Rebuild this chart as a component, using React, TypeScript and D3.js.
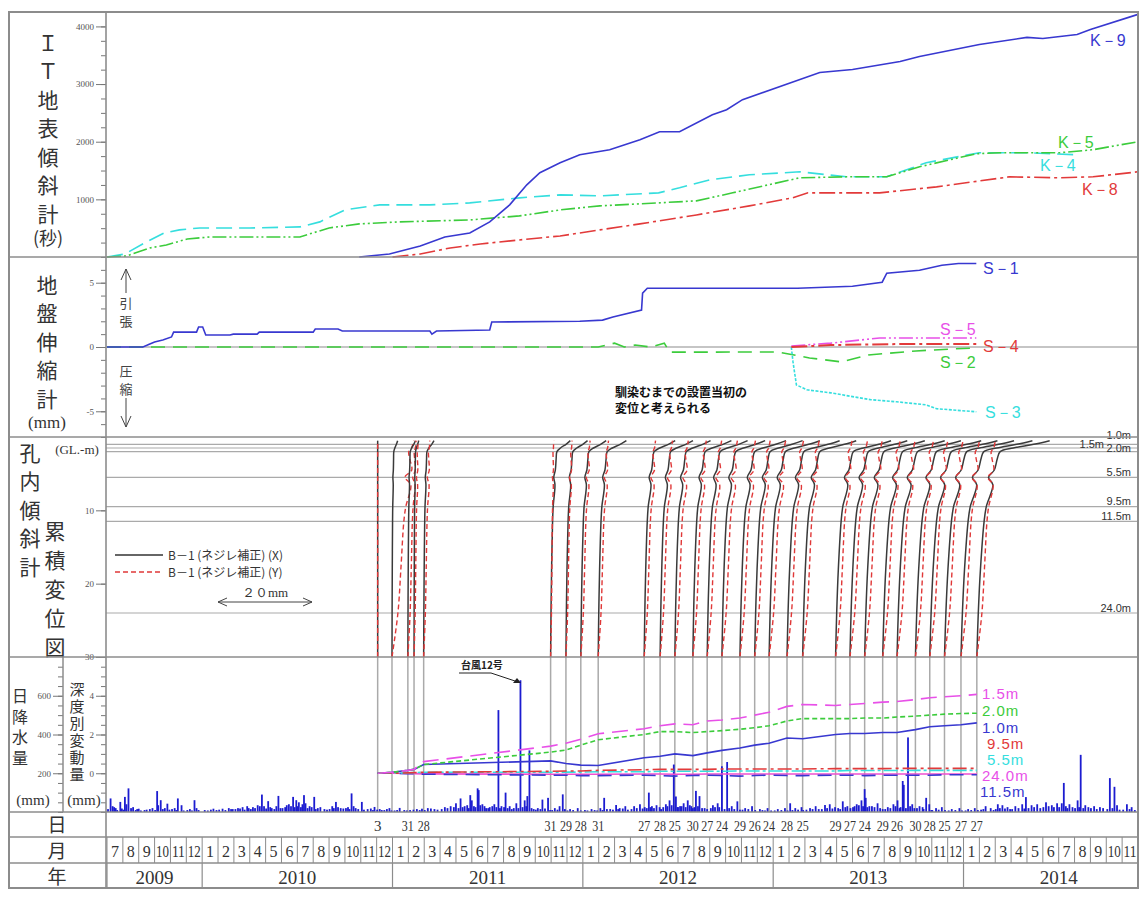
import React, { useEffect, useRef } from "react";
import * as d3 from "d3";

type Pt = [string, number];

const W = 1139;
const H = 902;

// ---- IT 地表傾斜計 (秒) ----
const k9: Pt[] = [["2010-10-29",0],["2010-12-26",52],["2011-02-22",191],["2011-04-10",348],["2011-05-28",417],["2011-07-05",609],["2011-08-13",904],["2011-09-15",1252],["2011-10-10",1461],["2011-11-18",1635],["2011-12-26",1774],["2012-02-21",1861],["2012-04-19",2035],["2012-05-27",2174],["2012-07-04",2174],["2012-09-06",2469],["2012-10-03",2556],["2012-11-03",2730],["2013-03-30",3200],["2013-06-01",3252],["2013-09-01",3391],["2013-10-08",3478],["2014-02-01",3687],["2014-05-01",3809],["2014-06-01",3791],["2014-08-06",3861],["2014-09-01",3948],["2014-12-01",4209]];
const k5: Pt[] = [["2009-07-01",0],["2009-08-08",17],["2009-09-22",157],["2009-10-24",209],["2009-12-03",313],["2010-01-16",348],["2010-07-06",348],["2010-09-01",504],["2010-10-29",574],["2011-01-15",609],["2011-05-28",643],["2011-09-01",713],["2011-11-18",817],["2012-02-03",887],["2012-05-25",939],["2012-08-06",974],["2012-10-15",1113],["2013-02-20",1374],["2013-05-20",1391],["2013-08-06",1391],["2013-10-08",1565],["2014-01-26",1791],["2014-03-10",1809],["2014-07-03",1809],["2014-09-06",1861],["2014-12-01",2000]];
const k4: Pt[] = [["2009-07-01",0],["2009-08-05",52],["2009-09-12",243],["2009-10-20",417],["2009-11-18",470],["2009-12-27",504],["2010-04-01",504],["2010-07-06",522],["2010-08-14",609],["2010-10-01",817],["2010-12-07",904],["2011-03-12",904],["2011-05-28",939],["2011-09-01",1026],["2011-11-18",1078],["2012-02-03",1061],["2012-05-25",1113],["2012-07-04",1200],["2012-09-01",1339],["2012-11-16",1426],["2013-02-20",1478],["2013-05-20",1391],["2013-08-06",1391],["2013-10-21",1635],["2014-02-01",1809],["2014-05-01",1809],["2014-08-01",1774]];
const k8: Pt[] = [["2011-01-01",0],["2011-02-22",52],["2011-04-20",157],["2011-06-17",226],["2011-09-01",296],["2011-11-18",365],["2012-02-03",470],["2012-04-19",574],["2012-08-06",730],["2012-11-16",887],["2013-02-07",1026],["2013-03-07",1113],["2013-07-23",1113],["2013-11-10",1217],["2014-03-29",1391],["2014-07-03",1374],["2014-09-06",1391],["2014-12-01",1478]];

// ---- 地盤伸縮計 (mm) ----
const s1: Pt[] = [["2009-07-01",0],["2009-09-09",0],["2009-09-22",0.23],["2009-10-01",0.39],["2009-10-17",0.54],["2009-11-03",0.78],["2009-11-07",1.16],["2009-12-21",1.16],["2009-12-25",1.55],["2010-01-02",1.55],["2010-01-08",0.93],["2010-02-22",0.93],["2010-02-28",1.0],["2010-04-15",1.0],["2010-04-19",1.16],["2010-08-01",1.16],["2010-08-05",1.4],["2010-09-18",1.4],["2010-09-26",1.24],["2011-03-12",1.24],["2011-03-16",1.0],["2011-03-25",1.24],["2011-07-05",1.32],["2011-07-09",1.94],["2011-12-26",2.0],["2012-02-08",2.09],["2012-02-27",2.33],["2012-04-22",2.87],["2012-04-24",4.19],["2012-05-03",4.57],["2013-02-16",4.57],["2013-06-01",4.73],["2013-07-28",5.04],["2013-08-06",5.74],["2013-10-08",5.97],["2013-11-20",6.36],["2013-12-22",6.5],["2014-01-26",6.5]];
const s2: Pt[] = [["2009-07-01",0],["2012-01-31",0],["2012-03-01",0.3],["2012-03-20",0],["2012-04-10",0.15],["2012-05-10",0],["2012-06-05",0.3],["2012-06-15",-0.4],["2013-01-10",-0.39],["2013-03-10",-0.85],["2013-05-10",-1.16],["2013-07-01",-0.62],["2013-10-01",-0.31],["2013-12-10",-0.15],["2014-01-27",-0.08]];
const s3: Pt[] = [["2013-02-05",0],["2013-02-08",-1.16],["2013-02-14",-2.95],["2013-03-05",-3.33],["2013-04-20",-3.57],["2013-07-06",-4.1],["2013-08-25",-4.26],["2013-10-21",-4.5],["2013-11-10",-4.8],["2014-01-26",-5.04]];
const s4: Pt[] = [["2013-02-05",0],["2013-04-20",0.15],["2013-09-01",0.23],["2014-01-26",0.23]];
const s5: Pt[] = [["2013-02-05",0.08],["2013-04-20",0.3],["2013-07-23",0.7],["2014-01-26",0.7]];

// ---- 孔内傾斜計 measurement dates ----
const surveyDates = ["2010-12-03","2010-12-31","2011-01-31","2011-02-11","2011-02-28","2011-10-31","2011-11-29","2011-12-28","2012-01-31","2012-04-27","2012-05-28","2012-06-25","2012-07-30","2012-08-27","2012-09-24","2012-10-29","2012-11-26","2012-12-24","2013-01-28","2013-02-25","2013-04-29","2013-05-27","2013-06-24","2013-07-29","2013-08-26","2013-09-30","2013-10-28","2013-11-25","2013-12-27","2014-01-27"];
const dayLabels = ["3","","31","","28","31","29","28","31","27","28","25","30","27","24","29","26","24","28","25","29","27","24","29","26","30","28","25","27","27"];
const topX = [0,1.2,1.6,1.0,2.2,4.2,4.6,5.4,6.0,6.6,7.0,7.6,8.2,8.6,9.2,9.8,10.2,10.8,11.2,11.4,11.8,12.2,12.8,13.2,13.6,14.0,14.4,14.8,15.2,15.5];
const topY = [0,4.2,1.6,0.8,1.2,0.6,1.2,1.8,2.0,2.2,2.4,2.6,2.6,2.8,3.0,3.0,3.0,3.2,3.2,3.2,3.2,3.4,3.4,3.4,3.5,3.5,3.5,3.6,3.6,3.6];
const profileDepths = [30,24,18,11.5,9.5,6.5,5.5,4.5,3,2.0,1.5,1.0,0.5];
const shapeX = [0,0.02,0.05,0.1,0.13,0.22,0.16,0.24,0.28,0.32,0.5,0.78,1.0];
const shapeY = [0,0.3,0.45,0.6,0.7,0.95,0.65,1.0,0.9,0.85,1.0,1.05,1.1];
const gridDepths = [1.0,1.5,2.0,5.5,9.5,11.5,24.0];

// ---- 深度別変動量 (mm), one value per survey date ----
const dep10 = [0,0.05,0.15,0.2,0.45,0.64,0.5,0.42,0.4,0.8,0.88,1.0,0.91,1.05,1.18,1.3,1.45,1.55,1.82,1.78,2.0,2.05,2.05,2.1,2.1,2.25,2.4,2.45,2.5,2.6];
const dep15 = [0,0.05,0.15,0.2,0.6,1.4,1.55,1.75,2.04,2.3,2.45,2.55,2.5,2.7,2.75,2.85,3.0,3.15,3.45,3.55,3.5,3.55,3.6,3.67,3.7,3.8,3.9,3.95,4.0,4.07];
const dep20 = [0,0.05,0.15,0.2,0.45,1.09,1.2,1.45,1.73,2.0,2.15,2.15,2.1,2.15,2.2,2.27,2.35,2.45,2.7,2.82,2.82,2.82,2.85,2.85,2.9,2.95,3.0,3.05,3.08,3.1];
const dep55 = [0,0,0.02,0.03,0.05,0.05,0.06,0.06,0.08,0.08,0.1,0.1,0.1,0.1,0.1,0.12,0.12,0.12,0.12,0.12,0.12,0.14,0.14,0.14,0.14,0.15,0.15,0.15,0.15,0.15];
const dep95 = [0,0,0.02,0.03,0.05,0.1,0.12,0.12,0.15,0.18,0.2,0.2,0.2,0.2,0.22,0.22,0.22,0.22,0.22,0.22,0.24,0.24,0.24,0.24,0.25,0.25,0.25,0.25,0.25,0.25];
const dep115 = [0,0,-0.02,-0.03,-0.05,-0.1,-0.1,-0.12,-0.12,-0.1,-0.12,-0.15,-0.12,-0.1,-0.12,-0.15,-0.12,-0.1,-0.12,-0.12,-0.1,-0.1,-0.12,-0.1,-0.1,-0.1,-0.1,-0.08,-0.08,-0.08];
const dep240 = [0,0,-0.01,-0.02,-0.03,-0.05,-0.05,-0.05,-0.05,-0.04,-0.04,-0.05,-0.05,-0.04,-0.04,-0.04,-0.04,-0.04,-0.04,-0.04,-0.04,-0.04,-0.04,-0.04,-0.04,-0.04,-0.04,-0.04,-0.04,-0.04];

// ---- 日降水量 (mm) : larger events ----
const rain: Pt[] = [["2009-07-08",70],["2009-07-12",30],["2009-07-18",20],["2009-07-27",52],["2009-08-05",78],["2009-08-08",40],["2009-08-12",122],["2009-08-17",20],["2009-09-01",17],["2009-09-12",10],["2009-09-22",15],["2009-10-06",108],["2009-10-13",61],["2009-10-21",20],["2009-10-26",43],["2009-11-04",15],["2009-11-15",70],["2009-11-22",35],["2009-12-08",15],["2009-12-17",61],["2009-12-25",10],["2010-01-06",10],["2010-01-23",17],["2010-02-09",17],["2010-02-20",20],["2010-02-27",15],["2010-03-09",20],["2010-03-18",25],["2010-03-27",30],["2010-04-07",25],["2010-04-16",35],["2010-04-24",90],["2010-04-28",30],["2010-05-06",56],["2010-05-13",20],["2010-05-26",83],["2010-06-08",25],["2010-06-15",40],["2010-06-23",78],["2010-06-29",61],["2010-07-04",50],["2010-07-14",87],["2010-07-17",45],["2010-07-25",30],["2010-08-03",78],["2010-08-10",20],["2010-08-23",15],["2010-09-07",30],["2010-09-14",52],["2010-09-23",20],["2010-10-07",25],["2010-10-14",96],["2010-10-22",20],["2010-11-03",52],["2010-11-14",15],["2010-11-27",26],["2010-12-07",15],["2010-12-16",10],["2010-12-26",20],["2011-01-15",21],["2011-01-24",10],["2011-02-10",12],["2011-02-25",17],["2011-03-08",20],["2011-03-21",15],["2011-04-10",25],["2011-04-21",30],["2011-05-01",45],["2011-05-10",70],["2011-05-18",30],["2011-05-29",87],["2011-06-01",60],["2011-06-12",122],["2011-06-14",113],["2011-06-21",40],["2011-07-05",25],["2011-07-14",40],["2011-07-22",526],["2011-07-28",30],["2011-08-05",100],["2011-08-13",30],["2011-08-21",20],["2011-08-26",45],["2011-09-03",680],["2011-09-11",60],["2011-09-16",82],["2011-09-20",318],["2011-10-06",20],["2011-10-15",64],["2011-10-26",73],["2011-11-08",20],["2011-11-17",30],["2011-11-23",91],["2011-12-07",15],["2011-12-22",20],["2012-01-05",10],["2012-01-18",15],["2012-02-04",20],["2012-02-11",73],["2012-02-22",15],["2012-03-04",36],["2012-03-11",20],["2012-03-22",30],["2012-04-08",30],["2012-04-19",40],["2012-04-28",25],["2012-05-06",100],["2012-05-12",30],["2012-05-21",35],["2012-05-27",25],["2012-06-08",40],["2012-06-15",60],["2012-06-23",245],["2012-06-27",80],["2012-07-05",30],["2012-07-12",45],["2012-07-20",60],["2012-07-27",30],["2012-08-05",109],["2012-08-12",82],["2012-08-22",20],["2012-09-07",35],["2012-09-16",45],["2012-09-24",236],["2012-10-04",258],["2012-10-13",30],["2012-10-24",55],["2012-11-08",20],["2012-11-21",30],["2012-12-06",15],["2012-12-21",20],["2013-01-10",15],["2013-01-24",20],["2013-02-03",45],["2013-02-12",20],["2013-02-23",25],["2013-03-11",20],["2013-03-22",30],["2013-04-09",36],["2013-04-18",40],["2013-04-28",25],["2013-05-13",55],["2013-05-22",30],["2013-06-09",40],["2013-06-18",60],["2013-06-24",118],["2013-06-26",73],["2013-07-08",30],["2013-07-19",45],["2013-08-08",25],["2013-08-19",40],["2013-08-27",60],["2013-09-06",160],["2013-09-08",140],["2013-09-16",385],["2013-09-24",40],["2013-10-08",30],["2013-10-21",73],["2013-10-27",40],["2013-11-09",20],["2013-11-20",25],["2013-12-09",15],["2013-12-24",20],["2014-01-10",15],["2014-01-23",20],["2014-02-12",30],["2014-02-21",20],["2014-03-06",40],["2014-03-15",35],["2014-03-25",25],["2014-04-09",30],["2014-04-22",40],["2014-04-29",77],["2014-05-10",35],["2014-05-21",40],["2014-06-07",50],["2014-06-18",35],["2014-06-28",45],["2014-07-07",45],["2014-07-11",150],["2014-07-22",40],["2014-08-07",60],["2014-08-13",295],["2014-08-22",35],["2014-09-08",30],["2014-09-19",25],["2014-10-08",175],["2014-10-17",130],["2014-10-22",35],["2014-11-10",40],["2014-11-19",25]];

// ---- 日降水量 (mm) : small daily amounts ----
const rainSmall: Pt[] = [["2009-07-03",15],["2009-07-15",25],["2009-07-21",10],["2009-07-30",18],["2009-08-02",12],["2009-08-21",25],["2009-08-26",10],["2009-08-29",15],["2009-09-05",8],["2009-09-16",12],["2009-09-27",20],["2009-10-02",10],["2009-10-08",35],["2009-10-17",15],["2009-10-30",12],["2009-11-09",20],["2009-11-12",10],["2009-11-26",8],["2009-12-03",10],["2009-12-12",8],["2009-12-21",20],["2010-01-12",8],["2010-01-18",12],["2010-01-29",10],["2010-02-03",12],["2010-02-14",10],["2010-02-24",15],["2010-03-04",15],["2010-03-13",18],["2010-03-22",12],["2010-03-30",20],["2010-04-03",15],["2010-04-11",20],["2010-04-20",30],["2010-05-02",18],["2010-05-10",25],["2010-05-18",15],["2010-05-22",30],["2010-05-30",20],["2010-06-03",20],["2010-06-11",35],["2010-06-19",30],["2010-06-26",25],["2010-07-01",30],["2010-07-08",25],["2010-07-11",40],["2010-07-21",20],["2010-07-29",25],["2010-08-06",15],["2010-08-15",25],["2010-08-28",12],["2010-09-02",15],["2010-09-10",20],["2010-09-18",25],["2010-09-28",18],["2010-10-03",20],["2010-10-10",15],["2010-10-18",30],["2010-10-27",15],["2010-11-07",12],["2010-11-20",18],["2010-11-24",10],["2010-12-02",12],["2010-12-11",10],["2010-12-21",15],["2010-12-30",8],["2011-01-05",8],["2011-01-10",10],["2011-01-29",8],["2011-02-04",10],["2011-02-16",15],["2011-02-21",10],["2011-03-02",10],["2011-03-14",18],["2011-03-27",12],["2011-04-04",15],["2011-04-15",20],["2011-04-27",25],["2011-05-06",20],["2011-05-14",25],["2011-05-23",35],["2011-05-26",20],["2011-06-05",30],["2011-06-08",25],["2011-06-17",35],["2011-06-25",30],["2011-06-28",20],["2011-07-02",20],["2011-07-10",30],["2011-07-18",25],["2011-07-25",20],["2011-08-02",25],["2011-08-09",20],["2011-08-17",15],["2011-08-30",20],["2011-09-07",25],["2011-09-14",30],["2011-09-24",20],["2011-09-28",15],["2011-10-02",12],["2011-10-11",15],["2011-10-20",18],["2011-10-30",10],["2011-11-03",10],["2011-11-13",12],["2011-11-27",15],["2011-12-02",8],["2011-12-13",10],["2011-12-28",8],["2012-01-10",8],["2012-01-24",10],["2012-01-29",8],["2012-02-08",10],["2012-02-16",15],["2012-02-27",12],["2012-03-08",15],["2012-03-17",18],["2012-03-27",12],["2012-04-03",15],["2012-04-13",20],["2012-04-24",18],["2012-05-02",20],["2012-05-09",25],["2012-05-16",20],["2012-05-30",15],["2012-06-03",25],["2012-06-11",30],["2012-06-19",35],["2012-06-30",25],["2012-07-01",25],["2012-07-08",30],["2012-07-16",25],["2012-07-24",35],["2012-07-30",20],["2012-08-02",25],["2012-08-09",30],["2012-08-17",20],["2012-08-27",15],["2012-09-03",20],["2012-09-11",25],["2012-09-19",25],["2012-09-29",15],["2012-10-08",20],["2012-10-18",15],["2012-10-29",12],["2012-11-03",12],["2012-11-14",15],["2012-11-27",10],["2012-12-11",10],["2012-12-16",8],["2012-12-28",8],["2013-01-04",8],["2013-01-17",10],["2013-01-29",8],["2013-02-07",10],["2013-02-17",12],["2013-02-26",10],["2013-03-04",12],["2013-03-16",15],["2013-03-28",15],["2013-04-03",15],["2013-04-13",20],["2013-04-23",18],["2013-05-04",20],["2013-05-08",15],["2013-05-18",25],["2013-05-28",20],["2013-06-02",25],["2013-06-05",30],["2013-06-13",35],["2013-06-21",30],["2013-06-29",25],["2013-07-03",30],["2013-07-13",25],["2013-07-24",20],["2013-07-29",15],["2013-08-03",15],["2013-08-13",20],["2013-08-23",30],["2013-08-31",20],["2013-09-02",25],["2013-09-12",20],["2013-09-20",30],["2013-09-28",20],["2013-10-03",20],["2013-10-14",25],["2013-10-16",15],["2013-10-31",10],["2013-11-02",10],["2013-11-14",12],["2013-11-26",10],["2013-12-03",8],["2013-12-16",10],["2013-12-29",8],["2014-01-05",8],["2014-01-16",10],["2014-01-29",10],["2014-02-04",12],["2014-02-08",15],["2014-02-26",10],["2014-03-02",15],["2014-03-10",20],["2014-03-20",18],["2014-03-30",15],["2014-04-03",15],["2014-04-15",20],["2014-04-26",18],["2014-05-04",20],["2014-05-15",25],["2014-05-27",20],["2014-06-02",25],["2014-06-12",30],["2014-06-22",25],["2014-07-02",25],["2014-07-15",30],["2014-07-18",20],["2014-07-28",25],["2014-08-02",20],["2014-08-10",25],["2014-08-18",20],["2014-08-28",25],["2014-09-02",20],["2014-09-13",15],["2014-09-25",20],["2014-10-03",15],["2014-10-13",20],["2014-10-27",12],["2014-11-03",12],["2014-11-15",15],["2014-11-25",10]];

const years = ["2009","2010","2011","2012","2013","2014"];

const BLUE = "#3838d0";
const GREEN = "#3ccc3c";
const CYAN = "#35dede";
const RED = "#e23a3a";
const MAGENTA = "#e850e8";
const GRID = "#8c8c8c";
const JP = "'Noto Sans CJK JP', sans-serif";
const SERIF = "'Liberation Serif', serif";
const SANS = "'Liberation Sans', sans-serif";

const mIdx = (s: string) => {
  const [y, m, d] = s.split("-").map(Number);
  return (y - 2009) * 12 + (m - 7) + (d - 1) / new Date(y, m, 0).getDate();
};

export default function App() {
  const ref = useRef<SVGSVGElement>(null);

  useEffect(() => {
    const svg = d3.select(ref.current);
    svg.selectAll("*").remove();

    const L = 106, R = 1138;
    const x = d3.scaleLinear().domain([0, 65]).range([107, R]);
    const xd = (s: string) => x(mIdx(s));
    const yK = d3.scaleLinear().domain([0, 4250]).range([257, 12]);
    const yS = d3.scaleLinear().domain([-7, 7]).range([437, 257]);
    const yD = d3.scaleLinear().domain([0, 30]).range([437, 657]);
    const dx = d3.scaleLinear().domain([0, 20]).range([0, 94]);
    const yRain = d3.scaleLinear().domain([0, 800]).range([812, 657]);
    const yDep = d3.scaleLinear().domain([-2, 6]).range([812, 657]);

    const line = (g: any, data: Pt[], y: any, color: string, dash: string | null, w = 1.6) =>
      g.append("path").datum(data)
        .attr("d", d3.line<Pt>().x((d) => xd(d[0])).y((d) => y(d[1])))
        .attr("fill", "none").attr("stroke", color).attr("stroke-width", w)
        .attr("stroke-dasharray", dash);

    const txt = (t: string, tx: number, ty: number, size: number, family: string, color = "#333", anchor = "middle") =>
      svg.append("text").attr("x", tx).attr("y", ty).attr("font-size", size)
        .attr("font-family", family).attr("fill", color).attr("text-anchor", anchor).text(t);

    // vertical (top-to-bottom) caption, one text element
    const vtxt = (t: string, cx: number, firstCy: number, size: number, pitch: number, color = "#333") =>
      svg.append("text").attr("x", cx).attr("y", firstCy - size / 2)
        .attr("writing-mode", "vertical-rl").attr("font-size", size)
        .attr("font-family", JP).attr("fill", color)
        .attr("letter-spacing", pitch - size).text(t);

    const axis = (xPos: number, scale: any, majors: number[], minors: number[], fmt: (v: number) => string) => {
      const gm = svg.append("g").attr("transform", `translate(${xPos},0)`)
        .call(d3.axisLeft(scale).tickValues(minors).tickSize(5).tickFormat(() => ""));
      const gM = svg.append("g").attr("transform", `translate(${xPos},0)`)
        .call(d3.axisLeft(scale).tickValues(majors).tickSize(10).tickPadding(2).tickFormat(fmt as any));
      [gm, gM].forEach((g) => {
        g.select(".domain").remove();
        g.selectAll("line").attr("stroke", "#777");
        g.selectAll("text").attr("font-size", 9).attr("font-family", SERIF).attr("fill", "#555");
      });
    };

    // ---------- panel 1 : IT 地表傾斜計 ----------
    axis(L, yK, [1000, 2000, 3000, 4000], d3.range(250, 4250, 250), (v) => String(v));
    const g1 = svg.append("g");
    line(g1, k4, yK, CYAN, "16,7");
    line(g1, k5, yK, GREEN, "14,3,2,3,2,3");
    line(g1, k8, yK, RED, "16,4,3,4");
    line(g1, k9, yK, BLUE, null);
    txt("K－9", 1090, 46, 16, SANS, BLUE, "start");
    txt("K－5", 1058, 148, 16, SANS, GREEN, "start");
    txt("K－4", 1040, 171, 16, SANS, CYAN, "start");
    txt("K－8", 1082, 195, 16, SANS, RED, "start");
    vtxt("ＩＴ地表傾斜計", 48, 43, 21, 28.5);
    txt("(秒)", 48, 245, 18, JP);

    // ---------- panel 2 : 地盤伸縮計 ----------
    svg.append("line").attr("x1", L).attr("x2", R).attr("y1", yS(0)).attr("y2", yS(0)).attr("stroke", GRID).attr("stroke-width", 1.2);
    axis(L, yS, [-5, 0, 5], d3.range(-7, 8, 1), (v) => String(v));
    const g2 = svg.append("g");
    line(g2, s2, yS, GREEN, "14,8");
    line(g2, s3, yS, CYAN, "3,1.5");
    line(g2, s5, yS, MAGENTA, "14,3,2,3,2,3");
    line(g2, s4, yS, RED, "16,4,3,4", 2);
    line(g2, s1, yS, BLUE, null);
    txt("S－1", 983, 274, 16, SANS, BLUE, "start");
    txt("S－5", 940, 335, 16, SANS, MAGENTA, "start");
    txt("S－4", 983, 352, 16, SANS, RED, "start");
    txt("S－2", 940, 368, 16, SANS, GREEN, "start");
    txt("S－3", 985, 418, 16, SANS, CYAN, "start");
    vtxt("地盤伸縮計", 47, 285, 21, 28.5);
    txt("(mm)", 47, 428, 17, SERIF);
    const arr = svg.append("g").attr("stroke", "#444").attr("fill", "none").attr("stroke-width", 1);
    arr.append("path").attr("d", "M126,293 V269 M121,280 L126,269 L131,280");
    arr.append("path").attr("d", "M126,398 V427 M121,416 L126,427 L131,416");
    vtxt("引張", 126, 303, 13, 18, "#444");
    vtxt("圧縮", 126, 371, 13, 18, "#444");
    txt("馴染むまでの設置当初の", 615, 397, 12, JP, "#111", "start").attr("font-weight", 700);
    txt("変位と考えられる", 615, 413, 12, JP, "#111", "start").attr("font-weight", 700);

    // ---------- panel 3 : 孔内傾斜計 累積変位図 ----------
    gridDepths.forEach((d) => {
      svg.append("line").attr("x1", L).attr("x2", R).attr("y1", yD(d)).attr("y2", yD(d)).attr("stroke", "#aaa").attr("stroke-width", 1.2);
    });
    axis(L, yD, [10, 20, 30], [10, 20, 30], (v) => String(v));
    const depLab: [string, number, number][] = [["1.0m", 1131, 439], ["1.5m", 1104, 448], ["2.0m", 1131, 452], ["5.5m", 1131, 476], ["9.5m", 1131, 505], ["11.5m", 1131, 520], ["24.0m", 1131, 612]];
    depLab.forEach(([t, tx, ty]) => txt(t, tx, ty, 11, SANS, "#333", "end"));
    const clip = svg.append("defs").append("clipPath").attr("id", "p3");
    clip.append("rect").attr("x", L).attr("y", 437).attr("width", R - L).attr("height", 220);
    const g3 = svg.append("g").attr("clip-path", "url(#p3)");
    const prof = d3.line<[number, number]>().x((d) => d[0]).y((d) => d[1]).curve(d3.curveCatmullRom.alpha(0.5));
    surveyDates.forEach((s, i) => {
      const x0 = xd(s);
      const px = profileDepths.map((d, j) => [x0 + dx(shapeX[j] * topX[i]), yD(d)] as [number, number]);
      const py = profileDepths.map((d, j) => [x0 + dx(shapeY[j] * topY[i]), yD(d)] as [number, number]);
      g3.append("path").attr("d", prof(px)).attr("fill", "none").attr("stroke", "#3a3a3a").attr("stroke-width", 1.5);
      g3.append("path").attr("d", prof(py)).attr("fill", "none").attr("stroke", "#e03838").attr("stroke-width", 1.4).attr("stroke-dasharray", "5,3");
    });
    svg.append("line").attr("x1", 115).attr("x2", 163).attr("y1", 555).attr("y2", 555).attr("stroke", "#333").attr("stroke-width", 1.5);
    svg.append("line").attr("x1", 115).attr("x2", 163).attr("y1", 572).attr("y2", 572).attr("stroke", "#e03838").attr("stroke-width", 1.5).attr("stroke-dasharray", "5,3");
    txt("B－1 (ネジレ補正) (X)", 168, 560, 12, JP, "#333", "start");
    txt("B－1 (ネジレ補正) (Y)", 168, 577, 12, JP, "#333", "start");
    txt("２０mm", 265, 597, 13, SERIF, "#333");
    arr.append("path").attr("d", `M218,602 H312 M227,598 L218,602 L227,606 M303,598 L312,602 L303,606`);
    vtxt("孔内傾斜計", 30, 453, 21, 28.5);
    vtxt("累積変位図", 55, 531, 21, 29);
    txt("(GL.-m)", 77, 454, 13, SERIF, "#333");

    // ---------- panel 4 : 日降水量 / 深度別変動量 ----------
    surveyDates.forEach((s) => {
      svg.append("line").attr("x1", xd(s)).attr("x2", xd(s)).attr("y1", 657).attr("y2", 812).attr("stroke", "#aaa").attr("stroke-width", 1.5);
    });
    svg.append("g").selectAll("rect").data(rain.concat(rainSmall)).join("rect")
      .attr("x", (d) => xd(d[0]) - 0.9).attr("width", 1.8)
      .attr("y", (d) => yRain(d[1])).attr("height", (d) => 812 - yRain(d[1]))
      .attr("fill", "#1c1cd0");
    const depPts = (vals: number[]): Pt[] => surveyDates.map((s, i) => [s, vals[i]]);
    const g4 = svg.append("g");
    line(g4, depPts(dep240), yDep, "#f050d0", null);
    line(g4, depPts(dep115), yDep, BLUE, "14,8");
    line(g4, depPts(dep55), yDep, CYAN, "14,3,3,3");
    line(g4, depPts(dep95), yDep, RED, "14,4,3,4");
    line(g4, depPts(dep10), yDep, BLUE, null);
    line(g4, depPts(dep20), yDep, GREEN, "5,3");
    line(g4, depPts(dep15), yDep, MAGENTA, "16,8");
    const rl: [string, number, number, string][] = [["1.5m", 982, 699, MAGENTA], ["2.0m", 982, 716, GREEN], ["1.0m", 982, 733, BLUE], ["9.5m", 987, 749, RED], ["5.5m", 987, 765, CYAN], ["24.0m", 982, 781, MAGENTA], ["11.5m", 980, 797, BLUE]];
    rl.forEach(([t, tx, ty, c]) => txt(t, tx, ty, 15, SANS, c, "start").attr("letter-spacing", 1));
    axis(63, yRain, [200, 400, 600], d3.range(0, 800, 50), (v) => String(v));
    axis(L, yDep, [0, 2, 4], d3.range(-2, 6, 0.5), (v) => String(v));
    svg.append("line").attr("x1", 63).attr("x2", 63).attr("y1", 657).attr("y2", 812).attr("stroke", GRID).attr("stroke-width", 1.5);
    vtxt("日降水量", 20, 696, 16, 20.5);
    vtxt("深度別変動量", 77, 689, 15, 17);
    txt("(mm)", 33, 805, 15, SERIF);
    txt("(mm)", 84, 805, 15, SERIF);
    txt("台風12号", 461, 669, 10, JP, "#222", "start").attr("font-weight", 700);
    arr.append("path").attr("d", "M459,673 H491 L521,683").attr("stroke", "#222");
    svg.append("path").attr("d", "M521,683 L513,683 L517,678 Z").attr("fill", "#222");

    // ---------- date rows ----------
    surveyDates.forEach((s, i) => {
      if (!dayLabels[i]) return;
      const t = txt(dayLabels[i], xd(s), 831, 15, SERIF);
      if (dayLabels[i].length > 1) t.attr("textLength", 12).attr("lengthAdjust", "spacingAndGlyphs");
    });
    d3.range(65).forEach((k) => {
      const m = ((k + 6) % 12) + 1;
      svg.append("line").attr("x1", x(k)).attr("x2", x(k)).attr("y1", 837).attr("y2", 863).attr("stroke", GRID).attr("stroke-width", 1);
      const t = txt(String(m), x(k + 0.5), 857, 16, SERIF);
      if (m > 9) t.attr("textLength", 13).attr("lengthAdjust", "spacingAndGlyphs");
    });
    years.forEach((yv, i) => {
      const a = i === 0 ? 0 : i * 12 - 6;
      const b = Math.min(i * 12 + 6, 65);
      svg.append("line").attr("x1", x(a)).attr("x2", x(a)).attr("y1", 863).attr("y2", 888).attr("stroke", GRID).attr("stroke-width", 1.2);
      txt(yv, (x(a) + x(i === 5 ? 66 : b)) / 2, 884, 19, SERIF);
    });
    txt("日", 57, 832, 19, JP);
    txt("月", 57, 858, 19, JP);
    txt("年", 57, 884, 19, JP);

    // ---------- frame ----------
    const fr = svg.append("g").attr("stroke", GRID).attr("stroke-width", 1.6).attr("fill", "none");
    fr.append("rect").attr("x", 9).attr("y", 12).attr("width", R - 9).attr("height", 876).attr("stroke-width", 2);
    [257, 437, 657, 812, 837, 863].forEach((yy) => fr.append("line").attr("x1", 9).attr("x2", R).attr("y1", yy).attr("y2", yy));
    fr.append("line").attr("x1", L).attr("x2", L).attr("y1", 12).attr("y2", 888);
  }, []);

  return (
    <svg ref={ref} width={W} height={H}
      style={{ position: "absolute", left: 0, top: 0, background: "#fff" }} />
  );
}
